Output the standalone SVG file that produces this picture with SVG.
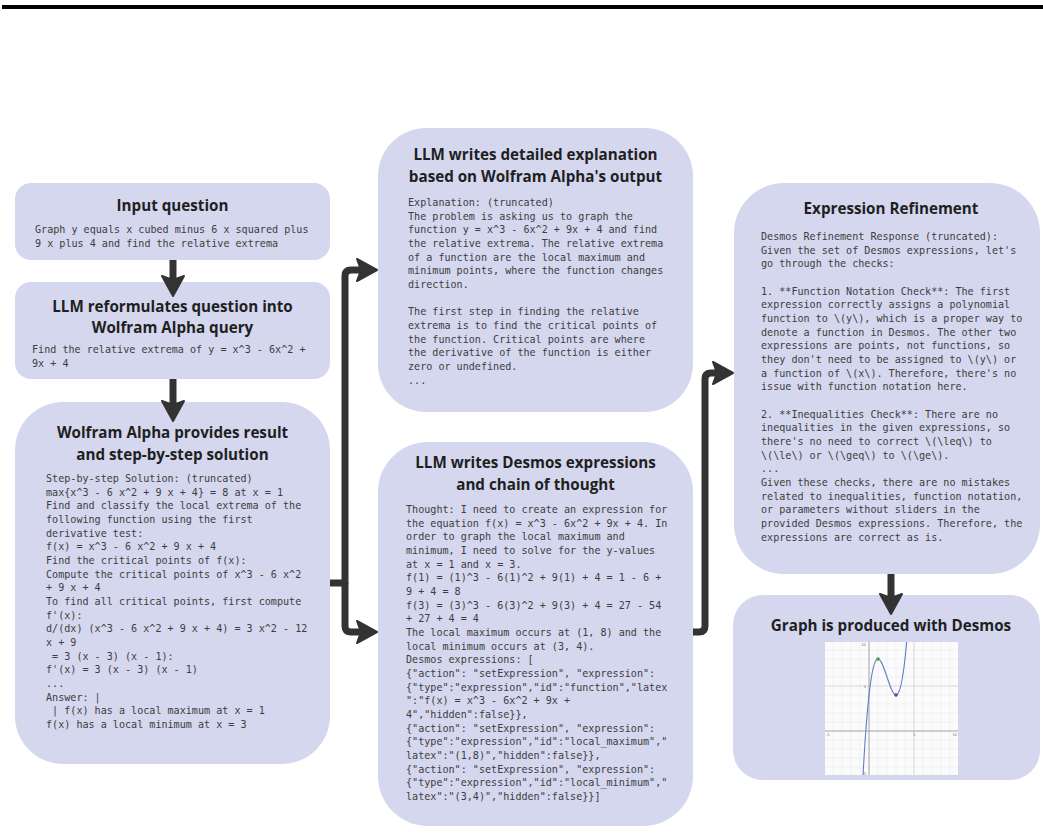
<svg xmlns="http://www.w3.org/2000/svg" width="1043" height="836" viewBox="0 0 1043 836">
<style>
.box{fill:#d4d7ee}
.title{font-family:"Open Sans","Liberation Sans",sans-serif;font-weight:700;font-size:15.2px;fill:#1f1f1f;text-anchor:middle}
.mono{font-family:"DejaVu Sans Mono","Liberation Mono",monospace;font-size:10.1px;fill:#3d3d3d;white-space:pre}
.conn{fill:none;stroke:#333;stroke-width:7;stroke-linejoin:round}
.tick{font-family:"Liberation Sans",sans-serif;font-size:4px;fill:#777}
</style>
<defs>
<marker id="ah" markerUnits="userSpaceOnUse" markerWidth="24" markerHeight="26" viewBox="0 0 24 26" refX="9" refY="13" orient="auto">
<path d="M2,2 L22,13 L2,24 L6,13 Z" fill="#333" stroke="#333" stroke-width="2" stroke-linejoin="round"/>
</marker>
<clipPath id="gclip"><rect x="825" y="642" width="133" height="133"/></clipPath>
</defs>
<rect x="2" y="5" width="1041" height="4" fill="#000"/>

<g id="input-question">
<rect class="box" x="15" y="183" width="315" height="77" rx="16"/>
<text class="title" x="172.5" y="211">Input question</text>
<text class="mono" xml:space="preserve"><tspan x="35" y="233">Graph y equals x cubed minus 6 x squared plus</tspan><tspan x="35" y="247">9 x plus 4 and find the relative extrema</tspan></text>
</g>

<g id="reformulate">
<rect class="box" x="15" y="282" width="315" height="97" rx="16"/>
<text class="title" x="172.5" y="312">LLM reformulates question into</text>
<text class="title" x="172.5" y="333">Wolfram Alpha query</text>
<text class="mono" xml:space="preserve"><tspan x="32" y="353">Find the relative extrema of y = x^3 - 6x^2 +</tspan><tspan x="32" y="367">9x + 4</tspan></text>
</g>

<g id="wolfram">
<rect class="box" x="15" y="402" width="315" height="362" rx="48"/>
<text class="title" x="172.5" y="438">Wolfram Alpha provides result</text>
<text class="title" x="172.5" y="460">and step-by-step solution</text>
<text class="mono" xml:space="preserve"><tspan x="46" y="482">Step-by-step Solution: (truncated)</tspan><tspan x="46" dy="13.67">max{x^3 - 6 x^2 + 9 x + 4} = 8 at x = 1</tspan><tspan x="46" dy="13.67">Find and classify the local extrema of the</tspan><tspan x="46" dy="13.67">following function using the first</tspan><tspan x="46" dy="13.67">derivative test:</tspan><tspan x="46" dy="13.67">f(x) = x^3 - 6 x^2 + 9 x + 4</tspan><tspan x="46" dy="13.67">Find the critical points of f(x):</tspan><tspan x="46" dy="13.67">Compute the critical points of x^3 - 6 x^2</tspan><tspan x="46" dy="13.67">+ 9 x + 4</tspan><tspan x="46" dy="13.67">To find all critical points, first compute</tspan><tspan x="46" dy="13.67">f'(x):</tspan><tspan x="46" dy="13.67">d/(dx) (x^3 - 6 x^2 + 9 x + 4) = 3 x^2 - 12</tspan><tspan x="46" dy="13.67">x + 9</tspan><tspan x="46" dy="13.67"> = 3 (x - 3) (x - 1):</tspan><tspan x="46" dy="13.67">f'(x) = 3 (x - 3) (x - 1)</tspan><tspan x="46" dy="13.67">...</tspan><tspan x="46" dy="13.67">Answer: |</tspan><tspan x="46" dy="13.67"> | f(x) has a local maximum at x = 1</tspan><tspan x="46" dy="13.67">f(x) has a local minimum at x = 3</tspan></text>
</g>

<g id="explanation">
<rect class="box" x="378" y="128" width="315" height="284" rx="48"/>
<text class="title" x="535.5" y="160">LLM writes detailed explanation</text>
<text class="title" x="535.5" y="182">based on Wolfram Alpha's output</text>
<text class="mono" xml:space="preserve"><tspan x="408" y="206">Explanation: (truncated)</tspan><tspan x="408" dy="13.67">The problem is asking us to graph the</tspan><tspan x="408" dy="13.67">function y = x^3 - 6x^2 + 9x + 4 and find</tspan><tspan x="408" dy="13.67">the relative extrema. The relative extrema</tspan><tspan x="408" dy="13.67">of a function are the local maximum and</tspan><tspan x="408" dy="13.67">minimum points, where the function changes</tspan><tspan x="408" dy="13.67">direction.</tspan><tspan x="408" dy="27.34">The first step in finding the relative</tspan><tspan x="408" dy="13.67">extrema is to find the critical points of</tspan><tspan x="408" dy="13.67">the function. Critical points are where</tspan><tspan x="408" dy="13.67">the derivative of the function is either</tspan><tspan x="408" dy="13.67">zero or undefined.</tspan><tspan x="408" dy="13.67">...</tspan></text>
</g>

<g id="desmos-expressions">
<rect class="box" x="378" y="442" width="315" height="384" rx="50"/>
<text class="title" x="535.5" y="468">LLM writes Desmos expressions</text>
<text class="title" x="535.5" y="490">and chain of thought</text>
<text class="mono" xml:space="preserve"><tspan x="406" y="513">Thought: I need to create an expression for</tspan><tspan x="406" dy="13.67">the equation f(x) = x^3 - 6x^2 + 9x + 4. In</tspan><tspan x="406" dy="13.67">order to graph the local maximum and</tspan><tspan x="406" dy="13.67">minimum, I need to solve for the y-values</tspan><tspan x="406" dy="13.67">at x = 1 and x = 3.</tspan><tspan x="406" dy="13.67">f(1) = (1)^3 - 6(1)^2 + 9(1) + 4 = 1 - 6 +</tspan><tspan x="406" dy="13.67">9 + 4 = 8</tspan><tspan x="406" dy="13.67">f(3) = (3)^3 - 6(3)^2 + 9(3) + 4 = 27 - 54</tspan><tspan x="406" dy="13.67">+ 27 + 4 = 4</tspan><tspan x="406" dy="13.67">The local maximum occurs at (1, 8) and the</tspan><tspan x="406" dy="13.67">local minimum occurs at (3, 4).</tspan><tspan x="406" dy="13.67">Desmos expressions: [</tspan><tspan x="406" dy="13.67">{"action": "setExpression", "expression":</tspan><tspan x="406" dy="13.67">{"type":"expression","id":"function","latex</tspan><tspan x="406" dy="13.67">":"f(x) = x^3 - 6x^2 + 9x +</tspan><tspan x="406" dy="13.67">4","hidden":false}},</tspan><tspan x="406" dy="13.67">{"action": "setExpression", "expression":</tspan><tspan x="406" dy="13.67">{"type":"expression","id":"local_maximum","</tspan><tspan x="406" dy="13.67">latex":"(1,8)","hidden":false}},</tspan><tspan x="406" dy="13.67">{"action": "setExpression", "expression":</tspan><tspan x="406" dy="13.67">{"type":"expression","id":"local_minimum","</tspan><tspan x="406" dy="13.67">latex":"(3,4)","hidden":false}}]</tspan></text>
</g>

<g id="refinement">
<rect class="box" x="734" y="183" width="306" height="391" rx="50"/>
<text class="title" x="891" y="214">Expression Refinement</text>
<text class="mono" xml:space="preserve"><tspan x="761" y="240">Desmos Refinement Response (truncated):</tspan><tspan x="761" dy="13.67">Given the set of Desmos expressions, let's</tspan><tspan x="761" dy="13.67">go through the checks:</tspan><tspan x="761" dy="27.34">1. **Function Notation Check**: The first</tspan><tspan x="761" dy="13.67">expression correctly assigns a polynomial</tspan><tspan x="761" dy="13.67">function to \(y\), which is a proper way to</tspan><tspan x="761" dy="13.67">denote a function in Desmos. The other two</tspan><tspan x="761" dy="13.67">expressions are points, not functions, so</tspan><tspan x="761" dy="13.67">they don't need to be assigned to \(y\) or</tspan><tspan x="761" dy="13.67">a function of \(x\). Therefore, there's no</tspan><tspan x="761" dy="13.67">issue with function notation here.</tspan><tspan x="761" dy="27.34">2. **Inequalities Check**: There are no</tspan><tspan x="761" dy="13.67">inequalities in the given expressions, so</tspan><tspan x="761" dy="13.67">there's no need to correct \(\leq\) to</tspan><tspan x="761" dy="13.67">\(\le\) or \(\geq\) to \(\ge\).</tspan><tspan x="761" dy="13.67">...</tspan><tspan x="761" dy="13.67">Given these checks, there are no mistakes</tspan><tspan x="761" dy="13.67">related to inequalities, function notation,</tspan><tspan x="761" dy="13.67">or parameters without sliders in the</tspan><tspan x="761" dy="13.67">provided Desmos expressions. Therefore, the</tspan><tspan x="761" dy="13.67">expressions are correct as is.</tspan></text>
</g>

<g id="graph">
<rect class="box" x="733" y="595" width="307" height="185" rx="30"/>
<text class="title" x="891" y="631">Graph is produced with Desmos</text>
<rect x="825" y="642" width="133" height="133" fill="#fbfbfc"/>
<g clip-path="url(#gclip)">
<path d="M833,642V775M842,642V775M851,642V775M860,642V775M878,642V775M887,642V775M896,642V775M905,642V775M923,642V775M932,642V775M941,642V775M950,642V775M825,767H958M825,758H958M825,749H958M825,740H958M825,722H958M825,713H958M825,704H958M825,695H958M825,677H958M825,668H958M825,659H958M825,650H958" stroke="#ececee" stroke-width="0.6" fill="none"/>
<path d="M914,642V775M825,686H958" stroke="#cfcfd3" stroke-width="0.8" fill="none"/>
<path d="M869,642V775M825,731H958" stroke="#8a8a8a" stroke-width="0.8" fill="none"/>
<path d="M862.97,776.2 C877.58,507.6 892.19,808.87 906.8,640.57" stroke="#5b7ec4" stroke-width="1.1" fill="none"/>
<circle cx="878" cy="659" r="1.8" fill="#4f9a4f"/>
<circle cx="896" cy="695" r="1.8" fill="#6a3fa8"/>
</g>
<text class="tick" x="866" y="646" text-anchor="end">10</text>
<text class="tick" x="866" y="688" text-anchor="end">5</text>
<text class="tick" x="866" y="775" text-anchor="end">-5</text>
<text class="tick" x="826" y="736">-5</text>
<text class="tick" x="914" y="736" text-anchor="middle">5</text>
<text class="tick" x="957" y="736" text-anchor="end">10</text>
</g>

<g id="connectors">
<path class="conn" d="M173,260 V283" marker-end="url(#ah)"/>
<path class="conn" d="M173,379 V408" marker-end="url(#ah)"/>
<path class="conn" d="M330,583 H345 V276 Q345,270 351,270 H364" marker-end="url(#ah)"/>
<path class="conn" d="M345,583 V626 Q345,632 351,632 H364" marker-end="url(#ah)"/>
<path class="conn" d="M693,632 H699 Q705,632 705,626 V379 Q705,373 711,373 H720" marker-end="url(#ah)"/>
<path class="conn" d="M891,574 V601" marker-end="url(#ah)"/>
</g>
</svg>
